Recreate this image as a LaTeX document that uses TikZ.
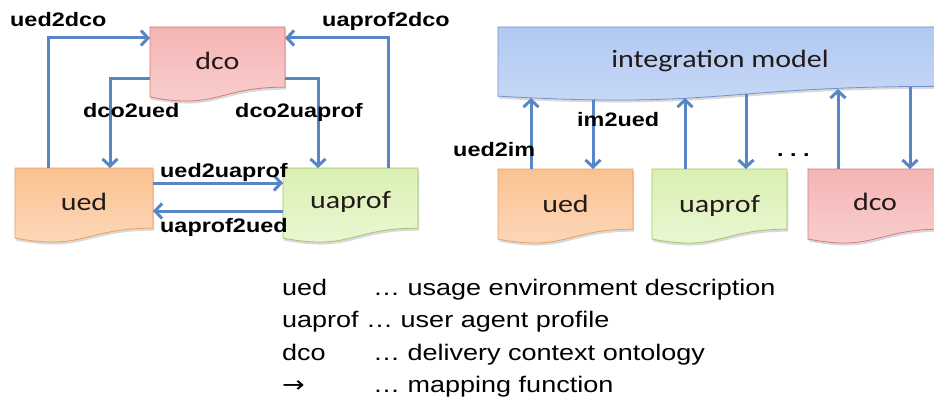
\documentclass[tikz,border=0pt]{standalone}
\usepackage{fontspec}
\newfontfamily\lblfont{Liberation Sans}[FakeStretch=1.2]
\newfontfamily\boxfont{Carlito}[FakeStretch=1.2]
\newfontfamily\arrowfont{DejaVu Sans}[FakeStretch=1.2]
\usetikzlibrary{arrows.meta,calc}

\definecolor{linkblue}{RGB}{88,134,196}
\definecolor{boxtext}{RGB}{35,25,25}
\definecolor{dcotop}{RGB}{245,180,180}
\definecolor{dcobot}{RGB}{249,208,208}
\definecolor{dcoedge}{RGB}{212,122,122}
\definecolor{uedtop}{RGB}{250,194,146}
\definecolor{uedbot}{RGB}{252,218,188}
\definecolor{uededge}{RGB}{232,160,98}
\definecolor{uaptop}{RGB}{218,240,178}
\definecolor{uapbot}{RGB}{236,248,214}
\definecolor{uapedge}{RGB}{162,200,104}
\definecolor{imtop}{RGB}{176,200,242}
\definecolor{imbot}{RGB}{202,218,246}
\definecolor{imedge}{RGB}{112,146,206}

\tikzset{
  frame/.style={rectangle, anchor=north west, inner sep=0pt, outer sep=0pt, draw=none},
  % flowchart "document" outline with a wavy bottom edge
  docpath/.style={insert path={
    (#1.north west) -- (#1.north east)
    -- ($(#1.north east)!0.802!(#1.south east)$)
    .. controls ($(#1.north)!0.802!(#1.south)$) and ($(#1.north)!1.107!(#1.south)$)
    .. ($(#1.north west)!0.934!(#1.south west)$) -- cycle}},
  docbox/.style n args={3}{draw=#3, line width=0.8pt, top color=#1, bottom color=#2},
  boxlabel/.style={anchor=base, inner sep=0pt, text=boxtext, font=\boxfont\fontsize{25}{28}\selectfont},
  maplabel/.style={anchor=base west, inner sep=0pt, font=\lblfont\bfseries\fontsize{19.5}{22}\selectfont},
  legend/.style={anchor=base west, inner sep=0pt, font=\lblfont\fontsize{22.5}{26}\selectfont},
  conn/.style={draw=linkblue, line width=3pt, -{Straight Barb[length=7pt,width=15pt]}},
}

\begin{document}
\begin{tikzpicture}[x=1pt,y=-1pt]
\useasboundingbox (0,0) rectangle (934,401);
\fill[white] (0,0) rectangle (934,401);

\begin{scope}
\clip (0,0) rectangle (934,401);

% box frames
\node[frame, minimum width=135pt, minimum height=75pt] (dcoL) at (150,27) {};
\node[frame, minimum width=138pt, minimum height=75pt] (uedL) at (15,168) {};
\node[frame, minimum width=135pt, minimum height=75pt] (uapL) at (283,168) {};
\node[frame, minimum width=444pt, minimum height=74pt] (im) at (498,27) {};
\node[frame, minimum width=135pt, minimum height=75pt] (uedR) at (498,169) {};
\node[frame, minimum width=135pt, minimum height=75pt] (uapR) at (652,169) {};
\node[frame, minimum width=134pt, minimum height=75pt] (dcoR) at (808,169) {};

% soft shadows
\begin{scope}[transform canvas={xshift=1pt,yshift=-2.5pt}]
  \foreach \b in {dcoL,uedL,uapL,im,uedR,uapR,dcoR}
    \fill[black, opacity=0.15, docpath=\b];
\end{scope}

% document shapes
\path[docbox={dcotop}{dcobot}{dcoedge}, docpath=dcoL];
\path[docbox={uedtop}{uedbot}{uededge}, docpath=uedL];
\path[docbox={uaptop}{uapbot}{uapedge}, docpath=uapL];
\path[docbox={imtop}{imbot}{imedge}, docpath=im];
\path[docbox={uedtop}{uedbot}{uededge}, docpath=uedR];
\path[docbox={uaptop}{uapbot}{uapedge}, docpath=uapR];
\path[docbox={dcotop}{dcobot}{dcoedge}, docpath=dcoR];

% box texts
\node[boxlabel] (dcoLt) at (217.5,70) {dco};
\node[boxlabel] (uedLt) at (84,210) {ued};
\node[boxlabel] (uapLt) at (350.5,208) {uaprof};
\node[boxlabel] (imt) at (720,68) {integration model};
\node[boxlabel] (uedRt) at (565.5,212) {ued};
\node[boxlabel] (uapRt) at (719.5,212) {uaprof};
\node[boxlabel] (dcoRt) at (875,210) {dco};

% mappings between the three vocabularies
\draw[conn] ([xshift=33pt]uedL.north west) |- ([yshift=-11pt]dcoL.north west);
\draw[conn] ([xshift=-30pt]uapL.north east) |- ([yshift=-11pt]dcoL.north east);
\draw[conn] ([yshift=-52pt]dcoL.north west) -| ([xshift=95pt]uedL.north west);
\draw[conn] ([yshift=-52pt]dcoL.north east) -| ([xshift=35pt]uapL.north west);
\draw[conn] ([yshift=-15pt]uedL.north east) -- ([yshift=-15pt]uapL.north west);
\draw[conn] ([yshift=-43pt]uapL.north west) -- ([yshift=-43pt]uedL.north east);

% mappings to and from the integration model
\draw[conn] ([xshift=33pt]uedR.north west) -- ([xshift=33pt,yshift=3pt]im.south west);
\draw[conn] ([xshift=95pt,yshift=1pt]im.south west) -- ([xshift=95pt]uedR.north west);
\draw[conn] ([xshift=33pt]uapR.north west) -- ([xshift=187pt,yshift=3pt]im.south west);
\draw[conn] ([xshift=248pt,yshift=7pt]im.south west) -- ([xshift=94pt]uapR.north west);
\draw[conn] ([xshift=30pt]dcoR.north west) -- ([xshift=340pt,yshift=12pt]im.south west);
\draw[conn] ([xshift=412pt,yshift=14pt]im.south west) -- ([xshift=102pt]dcoR.north west);
\end{scope}

% mapping labels
\node[maplabel] (l1) at (10,27) {ued2dco};
\node[maplabel] (l2) at (322,27) {uaprof2dco};
\node[maplabel] (l3) at (83,118) {dco2ued};
\node[maplabel] (l4) at (235,118) {dco2uaprof};
\node[maplabel] (l5) at (160,177) {ued2uaprof};
\node[maplabel] (l6) at (160,232) {uaprof2ued};
\node[maplabel] (l7) at (453,157) {ued2im};
\node[maplabel] (l8) at (577,127) {im2ued};
\node[maplabel] (l9) at (777,157) {.\ .\ .};

% legend
\node[legend] (k1) at (282,295) {ued};
\node[legend] (k1d) at (373,295) {… usage environment description};
\node[legend] (k2) at (282,327.5) {uaprof … user agent profile};
\node[legend] (k3) at (282,360) {dco};
\node[legend] (k3d) at (373,360) {… delivery context ontology};
\node[legend] (k4) at (282,392) {\arrowfont →};
\node[legend] (k4d) at (373,392) {… mapping function};
\end{tikzpicture}
\end{document}
